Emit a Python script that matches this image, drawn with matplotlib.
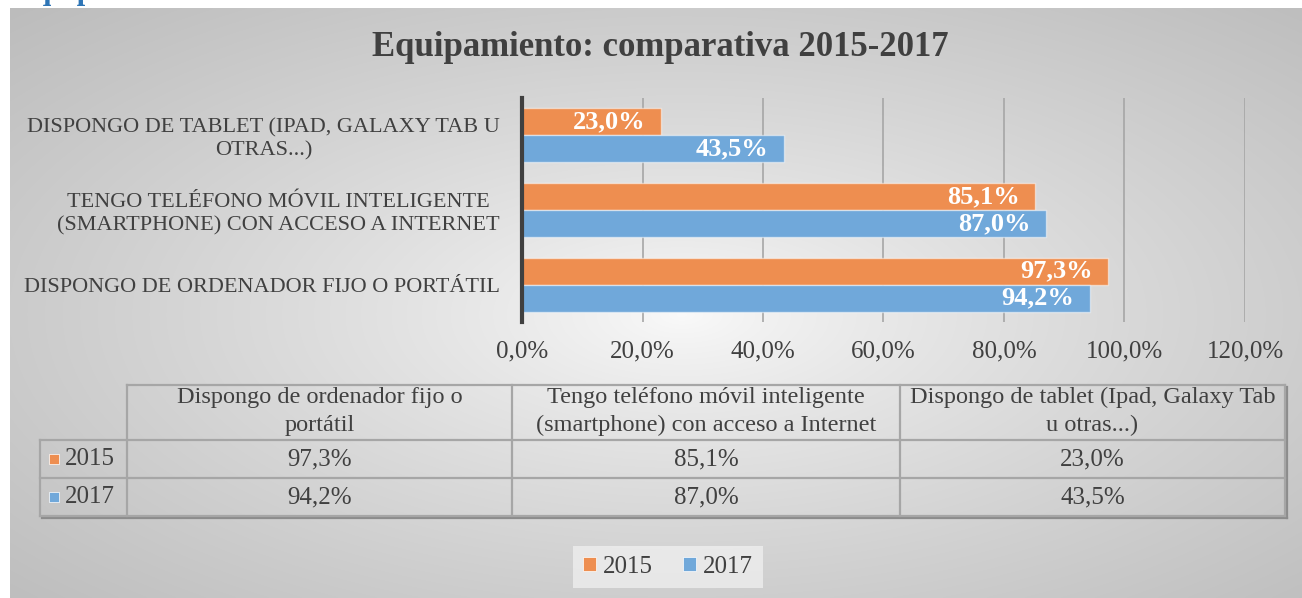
import numpy as np
import matplotlib
matplotlib.use("Agg")
import matplotlib.pyplot as plt
from matplotlib.patches import Patch, Rectangle

# data
categories = ["DISPONGO DE ORDENADOR FIJO O PORTÁTIL",
              "TENGO TELÉFONO MÓVIL INTELIGENTE\n(SMARTPHONE) CON ACCESO A INTERNET",
              "DISPONGO DE TABLET (IPAD, GALAXY TAB U\nOTRAS...)"]
table_headers = ["Dispongo de ordenador fijo o\nportátil",
                 "Tengo teléfono móvil inteligente\n(smartphone) con acceso a Internet",
                 "Dispongo de tablet (Ipad, Galaxy Tab\nu otras...)"]
series_names = ["2015", "2017"]
values_2015 = [97.3, 85.1, 23.0]
values_2017 = [94.2, 87.0, 43.5]
x_ticks = [0, 20, 40, 60, 80, 100, 120]

ORANGE = "#EE8E50"
BLUE = "#70A8DA"
TXT = "#404040"
FONT = "Liberation Serif"

plt.rcParams['font.family'] = [FONT, 'DejaVu Serif']

W, H = 1302, 598
fig = plt.figure(figsize=(W / 100, H / 100), dpi=100)
fig.patch.set_facecolor("white")

def fx(px):
    return px / W

def fy(py):
    return 1 - py / H

# gradient panel behind everything
bg = fig.add_axes([fx(10), 0, fx(1292), 590 / H], zorder=0)
yy, xx = np.mgrid[0:1:300j, 0:1:600j]
r = np.sqrt((xx - 0.52) ** 2 + (yy - 0.52) ** 2) / np.sqrt(0.5)
shade = (250 - 60 * r ** 0.8) / 255
img = np.dstack([shade, shade, shade])
bg.imshow(img, aspect="auto", extent=[0, 1, 0, 1], interpolation="bilinear")
bg.set_axis_off()

# cut-off heading at the very top (only its descenders show)
fig.text(fx(14), 1 + 1.5 / H, "Equipamiento", color="#2E75B6", fontsize=22,
         fontweight="bold", va="baseline", ha="left", zorder=5)

# bar chart
ax = fig.add_axes([fx(522), fy(322), fx(723), (322 - 98) / H], zorder=2)
ax.patch.set_alpha(0)
y = np.arange(len(categories))
bh = 0.36
b1 = ax.barh(y + bh / 2, values_2015, height=bh, color=ORANGE,
             edgecolor=(1, 1, 1, 0.5), linewidth=1, zorder=3)
b2 = ax.barh(y - bh / 2, values_2017, height=bh, color=BLUE,
             edgecolor=(1, 1, 1, 0.5), linewidth=1, zorder=3)

for bars, vals in [(b1, values_2015), (b2, values_2017)]:
    for rect, v in zip(bars, vals):
        ax.annotate(f"{v:.1f}%".replace(".", ","),
                    xy=(v, rect.get_y() + rect.get_height() / 2),
                    xytext=(-11, 0), textcoords="offset points",
                    ha="right", va="center", color="white",
                    fontsize=19, fontweight="bold", zorder=4)

ax.set_xlim(0, 120)
ax.set_ylim(-0.5, 2.5)
ax.set_xticks(x_ticks)
ax.set_xticklabels([f"{t:.1f}%".replace(".", ",") for t in x_ticks],
                   fontsize=18, color=TXT)
ax.set_yticks(y)
ax.set_yticklabels(categories, fontsize=16, color=TXT, multialignment="center",
                   linespacing=1.25)
ax.tick_params(axis="both", length=0)
ax.tick_params(axis="x", pad=13)
ax.tick_params(axis="y", pad=16)
ax.grid(axis="x", color="#a6a6a6", linewidth=1.2, zorder=1)
for s in ["top", "right", "bottom"]:
    ax.spines[s].set_visible(False)
ax.spines["left"].set_color("#404040")
ax.spines["left"].set_linewidth(3)
ax.spines["left"].set_zorder(5)

fig.text(fx(660), fy(48), "Equipamiento: comparativa 2015-2017",
         ha="center", va="center", fontsize=25, fontweight="bold", color=TXT)

# data table drawn below the chart
tab = fig.add_axes([0, 0, 1, 1], zorder=3)
tab.set_xlim(0, W)
tab.set_ylim(H, 0)
tab.set_axis_off()
tab.patch.set_alpha(0)

col_x = [40, 127, 512, 900, 1285]
row_y = [385, 440, 478, 516]
lc = "#a6a6a6"
shadow = "#8c8c8c"
lw = 1.6

# shadow on right/bottom
tab.plot([col_x[-1] + 2, col_x[-1] + 2], [row_y[0] + 2, row_y[-1] + 2], color=shadow, lw=lw)
tab.plot([col_x[0] + 2, col_x[-1] + 2], [row_y[-1] + 2, row_y[-1] + 2], color=shadow, lw=lw)
# horizontal lines
tab.plot([col_x[1], col_x[-1]], [row_y[0], row_y[0]], color=lc, lw=lw)
for ry in row_y[1:]:
    tab.plot([col_x[0], col_x[-1]], [ry, ry], color=lc, lw=lw)
# vertical lines
tab.plot([col_x[0], col_x[0]], [row_y[1], row_y[-1]], color=lc, lw=lw)
for cx in col_x[1:]:
    tab.plot([cx, cx], [row_y[0], row_y[-1]], color=lc, lw=lw)

for i, h in enumerate(table_headers):
    tab.text((col_x[i + 1] + col_x[i + 2]) / 2, (row_y[0] + row_y[1]) / 2 - 1, h,
             ha="center", va="center", fontsize=17.5, color=TXT,
             linespacing=1.45)

for j, (name, vals, colr) in enumerate([(series_names[0], values_2015, ORANGE),
                                         (series_names[1], values_2017, BLUE)]):
    cy = (row_y[j + 1] + row_y[j + 2]) / 2
    tab.add_patch(Rectangle((49, cy - 5), 10, 10, facecolor=colr,
                            edgecolor="white", linewidth=0.5))
    tab.text(65, cy, name, ha="left", va="center", fontsize=18, color=TXT)
    for i, v in enumerate(vals):
        tab.text((col_x[i + 1] + col_x[i + 2]) / 2, cy,
                 f"{v:.1f}%".replace(".", ","), ha="center", va="center",
                 fontsize=18, color=TXT)

# legend
handles = [Patch(facecolor=ORANGE, edgecolor="white", linewidth=0.5),
           Patch(facecolor=BLUE, edgecolor="white", linewidth=0.5)]
leg = fig.legend(handles, series_names, loc="center", ncol=2,
                 bbox_to_anchor=(fx(668), fy(567)), fontsize=18,
                 handlelength=0.5, handleheight=0.5, handletextpad=0.3,
                 columnspacing=1.2, frameon=True, fancybox=False,
                 borderpad=0.4)
leg.get_frame().set_facecolor("#f2f2f2")
leg.get_frame().set_alpha(0.7)
leg.get_frame().set_edgecolor("none")
for t in leg.get_texts():
    t.set_color(TXT)

fig.savefig("out.png", dpi=100)
